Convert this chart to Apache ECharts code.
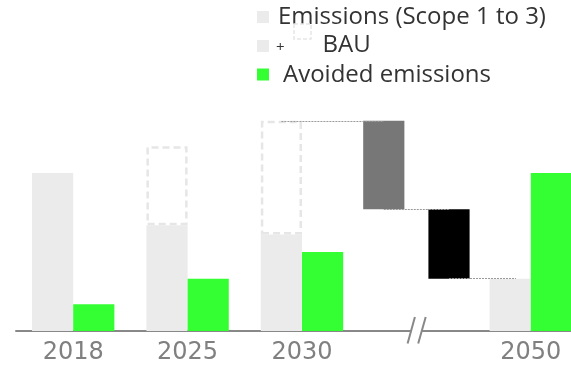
<!DOCTYPE html>
<html>
<head>
<meta charset="utf-8">
<script src="https://cdn.jsdelivr.net/npm/echarts@6/dist/echarts.min.js"></script>
<style>
  html, body { margin: 0; padding: 0; background: #ffffff; overflow: hidden; }
  /* the plot runs past the right edge of the window; the last bar ends at the edge */
  #chart { width: 588px; height: 368px; }
</style>
</head>
<body>
<div id="chart"></div>
<script>
// Years on the x axis (the blank slot holds the 2030 -> 2050 bridge)
const years = ['2018', '2025', '2030', '', '2050'];
// Emissions (Scope 1 to 3), index 2018 = 100
const emissions = [100, 67, 61, null, 33];
// Business-as-usual total emissions
const bauTotal = [null, 117, 133, null, null];
// Avoided emissions
const avoided = [17, 33, 50, null, 100];
// Bridge from the 2030 BAU level down to the 2050 emissions level
const bridgeLevels = [133, 77, 33];

const bauExtra = bauTotal.map((v, i) => (v == null ? null : v - emissions[i]));
const bridgeSteps = bridgeLevels.slice(1).map((lo, i) => [3, bridgeLevels[i], lo]);
const bridgeColors = ['#777777', '#000000'];

const GRAY = '#ebebeb';
const GREEN = '#33ff33';
const DASH = '#e6e6e6';

const chart = echarts.init(document.getElementById('chart'), null, { renderer: 'canvas' });

// slot centres inside a category band, as a fraction of the band width
const LEFT_SLOT = -0.18;
const STEP_SLOTS = [-0.285, 0.285];
const END_SLOT = -0.13;

function bridgeItem(params, api) {
  const i = params.dataIndex;
  const cat = api.value(0);
  const hi = api.value(1);
  const lo = api.value(2);
  const band = api.size([1, 0])[0];
  const cx = api.coord([cat, 0])[0] + STEP_SLOTS[i] * band;
  const w = band * 0.36;
  const yHi = api.coord([cat, hi])[1];
  const yLo = api.coord([cat, lo])[1];
  const children = [{
    type: 'rect',
    shape: { x: cx - w / 2, y: yHi, width: w, height: yLo - yHi },
    style: { fill: bridgeColors[i] }
  }];
  // dotted connector at the top level from the previous slot
  const prevX = i === 0
    ? api.coord([cat - 1, 0])[0] + LEFT_SLOT * band
    : api.coord([cat, 0])[0] + STEP_SLOTS[i - 1] * band;
  const yTop = Math.round(yHi) + 0.5;
  children.push({
    type: 'line',
    shape: { x1: prevX, y1: yTop, x2: cx, y2: yTop },
    style: { stroke: '#9a9a9a', lineWidth: 1, lineDash: [2, 1] }
  });
  if (i === bridgeSteps.length - 1) {
    const nextX = api.coord([cat + 1, 0])[0] + END_SLOT * band;
    const yBot = Math.round(yLo) - 0.5;
    children.push({
      type: 'line',
      shape: { x1: cx, y1: yBot, x2: nextX, y2: yBot },
      style: { stroke: '#9a9a9a', lineWidth: 1, lineDash: [2, 1] }
    });
  }
  return { type: 'group', children };
}

// "//" break mark on the axis in the bridge slot
function breakItem(params, api) {
  const p = api.coord([api.value(0), 0]);
  const x = p[0], y = p[1];
  return {
    type: 'group',
    children: [
      { type: 'rect', shape: { x: x - 5, y: y - 3, width: 10, height: 6 }, style: { fill: '#ffffff' } },
      { type: 'line', shape: { x1: x - 8.8, y1: y + 12.5, x2: x - 1.5, y2: y - 14 },
        style: { stroke: '#888888', lineWidth: 2 } },
      { type: 'line', shape: { x1: x + 1.8, y1: y + 12.5, x2: x + 9.3, y2: y - 14 },
        style: { stroke: '#888888', lineWidth: 2 } }
    ]
  };
}

const legendFont = { fontFamily: 'Open Sans', fontSize: 24, fill: '#333333', verticalAlign: 'middle' };

chart.setOption({
  animation: false,
  grid: { left: 16, top: 15, right: 0, bottom: 37, containLabel: false },
  xAxis: {
    type: 'category',
    data: years,
    axisLine: { lineStyle: { color: '#888888', width: 2 } },
    axisTick: { show: false },
    axisLabel: { color: '#808080', fontFamily: 'DejaVu Sans', fontSize: 24, margin: 10 }
  },
  yAxis: {
    type: 'value', min: 0, max: 200,
    show: false, splitLine: { show: false }
  },
  graphic: [
    { type: 'rect', shape: { x: 257, y: 11, width: 12, height: 12 }, style: { fill: GRAY } },
    { type: 'text', x: 278, y: 17.5, style: Object.assign({ text: 'Emissions (Scope 1 to 3)' }, legendFont) },
    { type: 'rect', shape: { x: 257, y: 40, width: 12, height: 12 }, style: { fill: GRAY } },
    { type: 'text', x: 276, y: 48, style: { text: '+', fontFamily: 'Open Sans', fontSize: 15, fill: '#333333', verticalAlign: 'middle' } },
    { type: 'rect', shape: { x: 294, y: 24, width: 17, height: 15 },
      style: { fill: 'none', stroke: DASH, lineWidth: 1.5, lineDash: [4, 2] } },
    { type: 'text', x: 322.5, y: 45.5, style: Object.assign({ text: 'BAU' }, legendFont) },
    { type: 'rect', shape: { x: 257, y: 68.5, width: 12, height: 12 }, style: { fill: GREEN } },
    { type: 'text', x: 283, y: 75, style: Object.assign({ text: 'Avoided emissions' }, legendFont) }
  ],
  series: [
    {
      name: 'Emissions (Scope 1 to 3)', type: 'bar', stack: 'total',
      data: emissions, barWidth: '36%', barGap: '0%',
      itemStyle: { color: GRAY }
    },
    {
      name: 'BAU', type: 'bar', stack: 'total',
      data: bauExtra, barWidth: '36%', barGap: '0%',
      itemStyle: { color: 'rgba(0,0,0,0)', borderColor: DASH, borderWidth: 2.5, borderType: [7, 4] }
    },
    {
      name: 'Avoided emissions', type: 'bar',
      data: avoided, barWidth: '36%', barGap: '0%',
      itemStyle: { color: GREEN }
    },
    {
      name: 'Bridge', type: 'custom', renderItem: bridgeItem,
      data: bridgeSteps, encode: { x: 0, y: [1, 2] }, clip: false, z: 3
    },
    {
      name: 'Break', type: 'custom', renderItem: breakItem,
      data: [[3]], encode: { x: 0 }, clip: false, z: 4
    }
  ]
});
</script>
</body>
</html>
